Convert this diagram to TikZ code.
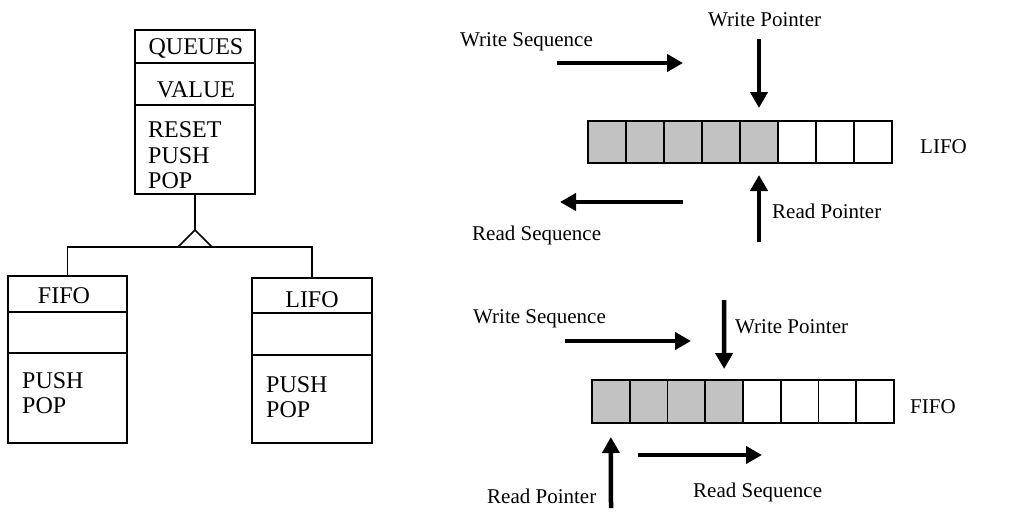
\documentclass[tikz,border=0pt]{standalone}
\usepackage{fontspec}
\setmainfont{Liberation Serif}
\usetikzlibrary{arrows.meta}
\begin{document}
\begin{tikzpicture}[x=1pt,y=-1pt,
  comp/.style={draw,line width=1.8pt,inner sep=0pt,outer sep=0pt,anchor=north west},
  ln/.style={line width=1.6pt},
  lt/.style={inner sep=0pt,font=\fontsize{24}{26}\selectfont},
  rt/.style={inner sep=0pt,anchor=base west,font=\fontsize{21}{24}\selectfont},
  cell/.style={draw,line width=1.8pt,inner sep=0pt,outer sep=0pt,minimum width=38pt,minimum height=42pt},
  fcell/.style={cell,minimum width=37.75pt,minimum height=43pt},
  shade/.style={fill=black!24},
  plain/.style={fill=white},
  arr/.style={line width=4.5pt,-{Triangle[length=16pt,width=17pt]}}]
\useasboundingbox (0,0) rectangle (1016,511);

% ---------- class diagram ----------
\node[comp,minimum width=120pt,minimum height=33pt] (qh) at (135,30) {};
\node[comp,minimum width=120pt,minimum height=42pt] (qa) at (135,63) {};
\node[comp,minimum width=120pt,minimum height=89pt] (qm) at (135,105) {};
\node[lt,anchor=base] (qt) at (196,55) {QUEUES};
\node[lt,anchor=base] (qv) at (196,97) {VALUE};
\node[lt,anchor=base west] (qr) at (148,137) {RESET};
\node[lt,anchor=base west] (qpu) at (148,163) {PUSH};
\node[lt,anchor=base west] (qpo) at (148,188) {POP};

\node[comp,minimum width=119pt,minimum height=36pt] (fh) at (8,276) {};
\node[comp,minimum width=119pt,minimum height=41pt] (fa) at (8,312) {};
\node[comp,minimum width=119pt,minimum height=90pt] (fm) at (8,353) {};
\node[lt,anchor=base] (ft) at (64,303) {FIFO};
\node[lt,anchor=base west] (fpu) at (22,388) {PUSH};
\node[lt,anchor=base west] (fpo) at (22,413) {POP};

\node[comp,minimum width=120pt,minimum height=35pt] (lh) at (252,278) {};
\node[comp,minimum width=120pt,minimum height=42pt] (la) at (252,313) {};
\node[comp,minimum width=120pt,minimum height=88pt] (lm) at (252,355) {};
\node[lt,anchor=base] (lt) at (312,307) {LIFO};
\node[lt,anchor=base west] (lpu) at (266,392) {PUSH};
\node[lt,anchor=base west] (lpo) at (266,417) {POP};

\coordinate (apex) at (qm.south |- 0,230);
\coordinate (bar) at (qm.south |- 0,247);
\draw[ln] (qm.south) -- (apex);
\draw[ln,fill=white] (apex) -- ([xshift=-17pt]bar) -- ([xshift=17pt]bar) -- cycle;
\draw[ln] (fh.north) -- (fh.north |- bar) -- (lh.north |- bar) -- (lh.north);

% ---------- LIFO array ----------
\foreach \i/\s in {1/shade,2/shade,3/shade,4/shade,5/shade,6/plain,7/plain,8/plain}
  \node[cell,\s] (L\i) at ({588+38*(\i-0.5)},142) {};
\node[rt] (lifolab) at (920,153) {LIFO};
\node[rt] (lwp) at (708,27) {Write Pointer};
\node[rt] (lws) at (460,47) {Write Sequence};
\node[rt] (lrp) at (772,218) {Read Pointer};
\node[rt] (lrs) at (472,240) {Read Sequence};
\coordinate (lwsA) at (557,63);
\coordinate (lwsB) at (683,63);
\coordinate (lwpA) at (759,39);
\coordinate (lrpA) at (759,242);
\coordinate (lrsA) at (683,202);
\coordinate (lrsB) at (560,202);
\draw[arr] (lwsA) -- (lwsB);
\draw[arr] (lwpA) -- ([yshift=13pt]L5.north);
\draw[arr] (lrpA) -- ([yshift=-12pt]L5.south);
\draw[arr] (lrsA) -- (lrsB);

% ---------- FIFO array ----------
\foreach \i/\s in {1/shade,2/shade,3/shade,4/shade,5/plain,6/plain,7/plain,8/plain}
  \node[fcell,\s] (F\i) at ({592+37.75*(\i-0.5)},401.5) {};
\node[rt] (fifolab) at (910,413) {FIFO};
\node[rt] (fws) at (473,323) {Write Sequence};
\node[rt] (fwp) at (735,333) {Write Pointer};
\node[rt] (frp) at (487,503) {Read Pointer};
\node[rt] (frs) at (693,497) {Read Sequence};
\coordinate (fwsA) at (565,341);
\coordinate (fwsB) at (691,341);
\coordinate (fwpA) at (724,300);
\coordinate (frpA) at (611,508);
\coordinate (frsA) at (638,455);
\coordinate (frsB) at (762,455);
\draw[arr] (fwsA) -- (fwsB);
\draw[arr] (fwpA) -- ([yshift=11pt]F4.north);
\draw[arr] (frpA) -- ([yshift=-14pt]F1.south);
\draw[arr] (frsA) -- (frsB);
\end{tikzpicture}
\end{document}
